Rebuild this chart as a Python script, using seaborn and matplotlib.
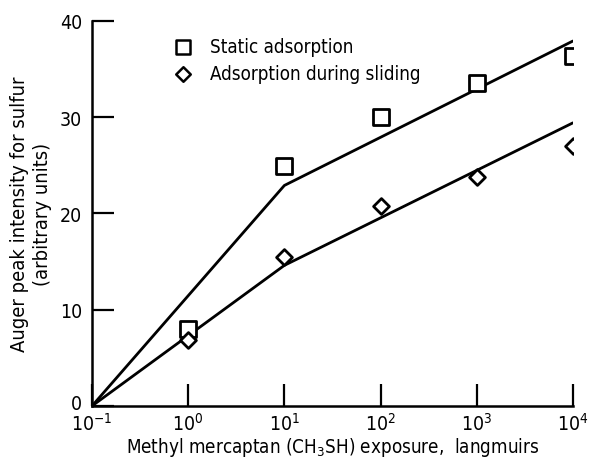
import matplotlib
matplotlib.use("Agg")
import matplotlib.pyplot as plt
import matplotlib.transforms as mtransforms
import seaborn as sns
import pandas as pd

# exposure in langmuirs
exposure = [1, 10, 100, 1000, 10000]
static_pts = [8.0, 24.9, 30.0, 33.5, 36.3]
sliding_pts = [6.8, 15.5, 20.8, 23.8, 27.0]

# fitted lines (two straight segments each)
line_x = [0.1, 10, 10000]
static_line = [0.0, 22.9, 37.9]
sliding_line = [0.0, 14.6, 29.4]

sns.set_style("white")
plt.rcParams['font.family'] = ['DejaVu Sans']
plt.rcParams['font.stretch'] = 'condensed'
plt.rcParams['mathtext.fontset'] = 'custom'
plt.rcParams['mathtext.rm'] = 'DejaVu Sans:stretch=condensed'
plt.rcParams['mathtext.it'] = 'DejaVu Sans:stretch=condensed'
plt.rcParams['text.color'] = 'black'
plt.rcParams['axes.labelcolor'] = 'black'

fig = plt.figure(figsize=(5.9, 4.64), dpi=100)
ax = fig.add_axes([0.156, 0.123, 0.815, 0.830])

lines = pd.DataFrame({'x': line_x * 2,
                      'y': static_line + sliding_line,
                      'series': ['static'] * 3 + ['sliding'] * 3})
sns.lineplot(data=lines, x='x', y='y', units='series', estimator=None,
             color='black', lw=2, ax=ax, legend=False)

sns.scatterplot(x=exposure, y=static_pts, marker='s', s=120,
                facecolor='white', edgecolor='black', linewidth=2,
                ax=ax, zorder=5)
sns.scatterplot(x=exposure, y=sliding_pts, marker='D', s=65,
                facecolor='white', edgecolor='black', linewidth=2,
                ax=ax, zorder=5)

ax.set_xscale('log')
ax.set_xlim(0.1, 10000)
ax.set_ylim(0, 40)
ax.set_xticks([0.1, 1, 10, 100, 1000, 10000])
ax.set_xticklabels(['$10^{-1}$', '$10^{0}$', '$10^{1}$', '$10^{2}$',
                    '$10^{3}$', '$10^{4}$'])
ax.minorticks_off()
ax.set_yticks([0, 10, 20, 30, 40])
ax.tick_params(bottom=True, left=True, direction='in', length=16, width=1.6,
               labelsize=14, colors='black')
ax.tick_params(axis='x', pad=4)
ax.tick_params(axis='y', pad=7)

# lift the "0" a little so it sits above the 10^-1 label
zero_lbl = ax.get_yticklabels()[0]
zero_lbl.set_transform(zero_lbl.get_transform() +
                       mtransforms.ScaledTranslation(0, 3 / 72, fig.dpi_scale_trans))

for s in ['top', 'right']:
    ax.spines[s].set_visible(False)
for s in ['left', 'bottom']:
    ax.spines[s].set_linewidth(1.8)
    ax.spines[s].set_color('black')

ax.set_xlabel('Methyl mercaptan (CH$_3$SH) exposure,  langmuirs',
              fontsize=13.5, labelpad=1)
ax.set_ylabel('Auger peak intensity for sulfur\n(arbitrary units)',
              fontsize=14.5, labelpad=6, linespacing=1.25)

# legend drawn by hand like the original figure
ax.scatter([0.88], [37.3], marker='s', s=100, facecolor='white',
           edgecolor='black', linewidth=1.8, clip_on=False)
ax.text(1.69, 37.3, 'Static adsorption', fontsize=13.5, va='center')
ax.scatter([0.88], [34.5], marker='D', s=55, facecolor='white',
           edgecolor='black', linewidth=1.8, clip_on=False)
ax.text(1.69, 34.5, 'Adsorption during sliding', fontsize=13.5, va='center')

fig.savefig('out.png', dpi=100)
